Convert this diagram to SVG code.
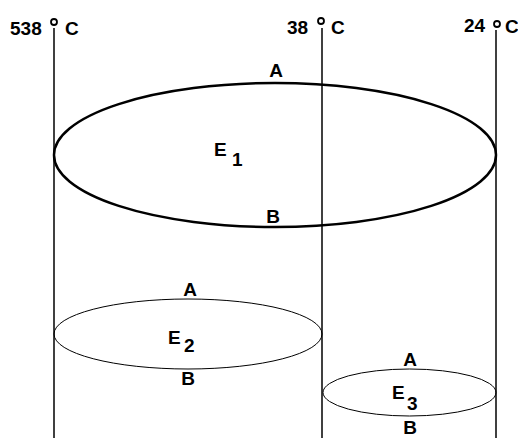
<svg xmlns="http://www.w3.org/2000/svg" width="518" height="438" viewBox="0 0 518 438">
<style>
text{font-family:"Liberation Sans",Arial,sans-serif;font-size:19px;font-weight:bold;fill:#000}
.m{text-anchor:middle}
.v{stroke:#000;stroke-width:1.5;fill:none}
.deg{stroke:#000;stroke-width:1.8;fill:none}
.thick{stroke:#000;stroke-width:2.5;fill:none}
.thin{stroke:#000;stroke-width:1;fill:none}
</style>
<rect width="518" height="438" fill="#fff"/>
<g id="axes">
<g id="t538">
<line class="v" x1="54" y1="28" x2="54" y2="438"/>
<circle class="deg" cx="54" cy="22" r="3"/>
<text x="10" y="35">538</text>
<text x="65" y="35">C</text>
</g>
<g id="t38">
<line class="v" x1="322" y1="28" x2="322" y2="438"/>
<circle class="deg" cx="321" cy="21" r="3"/>
<text x="287" y="34">38</text>
<text x="331" y="34">C</text>
</g>
<g id="t24">
<line class="v" x1="496" y1="30" x2="496" y2="438"/>
<circle class="deg" cx="497" cy="24" r="3"/>
<text x="464" y="32">24</text>
<text x="505" y="33">C</text>
</g>
</g>
<g id="E1">
<ellipse class="thick" cx="275" cy="155" rx="221" ry="72"/>
<text class="m" x="276" y="77">A</text>
<text class="m" x="273" y="223">B</text>
<text x="214" y="156">E</text>
<text x="232" y="166">1</text>
</g>
<g id="E2">
<ellipse class="thin" cx="188" cy="334" rx="134" ry="35"/>
<text class="m" x="190" y="296">A</text>
<text class="m" x="188" y="385">B</text>
<text x="168" y="344">E</text>
<text x="184" y="352">2</text>
</g>
<g id="E3">
<ellipse class="thin" cx="409.5" cy="392.5" rx="86.5" ry="23.5"/>
<text class="m" x="410" y="366">A</text>
<text class="m" x="410" y="434">B</text>
<text x="392" y="399">E</text>
<text x="407" y="410">3</text>
</g>
</svg>
